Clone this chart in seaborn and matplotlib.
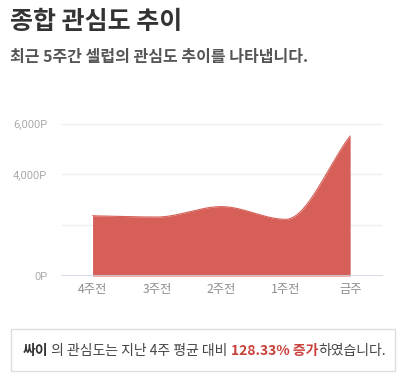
import numpy as np
import pandas as pd
import seaborn as sns
import matplotlib.pyplot as plt
from matplotlib.patches import Rectangle

# data
weeks = ["4주전", "3주전", "2주전", "1주전", "금주"]
scores = [2370, 2320, 2730, 2230, 5510]
y_ticks = [0, 2000, 4000, 6000]
y_tick_labels = ["0P", "", "4,000P", "6,000P"]

sns.set_style("white")
plt.rcParams["font.family"] = ["Noto Sans CJK KR", "DejaVu Sans"]

W, H = 409, 378
fig = plt.figure(figsize=(W / 100, H / 100), dpi=100)


def monotone(x, y, n=60):
    # Fritsch-Carlson monotone cubic for the smooth curve
    x = np.asarray(x, float)
    y = np.asarray(y, float)
    h = np.diff(x)
    d = np.diff(y) / h
    m = np.zeros_like(y)
    m[0], m[-1] = d[0], d[-1]
    for i in range(1, len(y) - 1):
        if d[i - 1] * d[i] <= 0:
            m[i] = 0
        else:
            m[i] = 2 / (1 / d[i - 1] + 1 / d[i])
    xs, ys = [], []
    for i in range(len(h)):
        t = np.linspace(0, 1, n)
        h00 = 2 * t**3 - 3 * t**2 + 1
        h10 = t**3 - 2 * t**2 + t
        h01 = -2 * t**3 + 3 * t**2
        h11 = t**3 - t**2
        xs.append(x[i] + t * h[i])
        ys.append(h00 * y[i] + h10 * h[i] * m[i] + h01 * y[i + 1] + h11 * h[i] * m[i + 1])
    return np.concatenate(xs), np.concatenate(ys)


xi, yi = monotone(range(len(weeks)), scores)
curve = pd.DataFrame({"x": xi, "y": yi})

bottom = (H - 276) / H
top_px = 276 - 6300 * (152.5 / 6000)
ax = fig.add_axes([61 / W, bottom, (383 - 61) / W, (276 - top_px) / H])

sns.lineplot(data=curve, x="x", y="y", ax=ax, color="#d65f58", lw=0.8, sort=False)
ax.fill_between(curve["x"], curve["y"], color="#d65f58", lw=0)

ax.set_xlim(-0.49, 4.51)
ax.set_ylim(0, 6300)
ax.set_xticks(range(len(weeks)))
ax.set_xticklabels(weeks)
ax.set_yticks(y_ticks)
ax.set_yticklabels(y_tick_labels)
ax.set_xlabel("")
ax.set_ylabel("")
for yv in y_ticks[1:]:
    ax.axhline(yv, color="#efefef", lw=1, zorder=0)
ax.axhline(0, color="#ccd6e0", lw=1.2, zorder=3)
for s in ax.spines.values():
    s.set_visible(False)
ax.tick_params(axis="x", length=0, pad=5, labelsize=8.8, labelcolor="#8c8c8c")
ax.tick_params(axis="y", length=0, pad=10, labelsize=8, labelcolor="#aaaaaa")
for lab in ax.get_yticklabels():
    lab.set_fontfamily(["Roboto", "DejaVu Sans"])

# titles
fig.text(10 / W, 1 - 22 / H, "종합 관심도 추이", fontsize=18, fontweight="bold",
         color="#333333", va="center", ha="left")
fig.text(10 / W, 1 - 57 / H, "최근 5주간 셀럽의 관심도 추이를 나타냅니다.", fontsize=11.5,
         fontweight="bold", color="#555555", va="center", ha="left")

# summary box
fig.patches.append(Rectangle((11 / W, 1 - 371 / H), (395 - 11) / W, (371 - 329) / H,
                             transform=fig.transFigure, fill=False,
                             edgecolor="#dddddd", lw=1))

parts = [("싸이", "bold", "#333333"),
         (" 의 관심도는 지난 4주 평균 대비 ", "normal", "#444444"),
         ("128.33% 증가", "bold", "#c9403a"),
         ("하였습니다.", "normal", "#444444")]
renderer = fig.canvas.get_renderer()
texts = []
x = 0
for s, w, c in parts:
    t = fig.text(x / W, 1 - 351 / H, s, fontsize=10, fontweight=w, color=c,
                 va="center", ha="left")
    x += t.get_window_extent(renderer).width
    texts.append(t)
start = (W - x) / 2
for t in texts:
    px, py = t.get_position()
    t.set_x(px + start / W)

fig.savefig("out.png", dpi=100)
